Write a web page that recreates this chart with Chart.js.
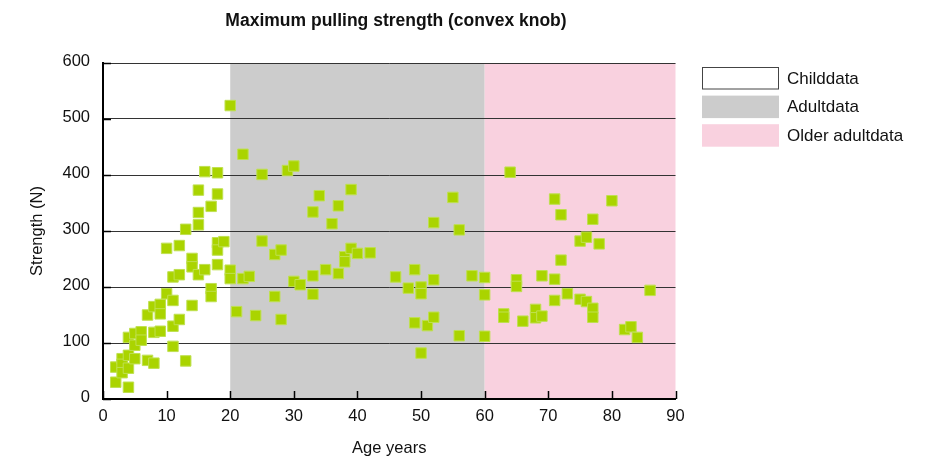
<!DOCTYPE html>
<html lang="en">
<head>
    <meta charset="UTF-8">
    <title>Maximum pulling strength (convex knob)</title>
    <script src="https://cdn.jsdelivr.net/npm/chart.js"></script>
    <style>
        html, body {
            margin: 0;
            padding: 0;
            background: #fff;
        }
        .wrap {
            position: relative;
            width: 940px;
            height: 458px;
        }
    </style>
</head>
<body>
    <div class="wrap">
        <canvas id="chart"></canvas>
    </div>

    <script>
        // age (years) and max pulling strength (N), one entry per subject
        const ages = [
            2, 2, 3, 3, 3, 4, 4, 4, 4, 5, 5, 5, 6, 6, 7, 7, 8, 8, 8, 9, 9, 9,
            10, 10, 11, 11, 11, 11, 12, 12, 12, 13, 13, 14, 14, 14,
            15, 15, 15, 15, 16, 16, 17, 17, 17, 18, 18, 18, 18, 18, 19,
            20, 20, 20, 21, 22, 22, 23, 24, 25, 25, 27, 27, 28, 28, 29, 30, 30, 31,
            33, 33, 33, 34, 35, 36, 37, 37, 38, 38, 39, 39, 40, 42,
            46, 48, 49, 49, 50, 50, 50, 51, 52, 52, 52, 55, 56, 56, 58, 60, 60, 60,
            63, 63, 64, 65, 65, 66, 68, 68, 69, 69, 71, 71, 71, 72, 72, 73,
            75, 75, 76, 76, 77, 77, 77, 78, 80, 82, 83, 84, 86
        ];
        const strengths = [
            57, 30, 72, 62, 47, 110, 78, 55, 21, 117, 96, 72, 120, 105, 150, 69, 165, 119, 64, 169, 152, 121,
            269, 188, 218, 176, 130, 94, 274, 222, 142, 303, 68, 251, 236, 167,
            373, 333, 311, 222, 406, 231, 344, 197, 183, 404, 366, 279, 266, 240, 281,
            524, 230, 215, 156, 437, 215, 219, 149, 401, 282, 258, 183, 266, 142, 408, 416, 210, 204,
            334, 220, 187, 363, 231, 313, 345, 224, 254, 245, 374, 269, 260, 261,
            218, 198, 231, 136, 200, 188, 82, 131, 315, 213, 146, 360, 302, 113, 220, 217, 186, 112,
            152, 146, 405, 213, 201, 139, 160, 145, 220, 148, 357, 214, 176, 329, 248, 188,
            282, 178, 289, 174, 321, 162, 146, 277, 354, 124, 129, 110, 194
        ];

        // age groups shaded behind the points
        const bandNames = ['Childdata', 'Adultdata', 'Older adultdata'];
        const bandFrom = [0, 20, 60];
        const bandTo = [20, 60, 90];
        const bandColors = ['#ffffff', '#cccccc', '#f9d1df'];

        const xMin = 0, xMax = 90, xStep = 10;
        const yMin = 0, yMax = 600, yStep = 100;

        const titleText = 'Maximum pulling strength (convex knob)';
        const xTitle = 'Age years';
        const yTitle = 'Strength (N)';

        const FONT = "'Liberation Sans', Arial, Helvetica, sans-serif";
        Chart.defaults.font.family = FONT;
        Chart.defaults.color = '#111';

        const points = ages.map((a, i) => ({ x: a, y: strengths[i] }));

        // coloured age bands under the grid
        const bandsPlugin = {
            id: 'bands',
            beforeDraw(chart) {
                const { ctx, chartArea, scales } = chart;
                ctx.save();
                bandFrom.forEach((from, i) => {
                    const x0 = scales.x.getPixelForValue(from);
                    const x1 = scales.x.getPixelForValue(bandTo[i]);
                    ctx.fillStyle = bandColors[i];
                    ctx.fillRect(x0, chartArea.top, x1 - x0, chartArea.bottom - chartArea.top);
                });
                ctx.restore();
            }
        };

        // short tick marks pointing into the plot
        const innerTicks = {
            id: 'innerTicks',
            afterDatasetsDraw(chart) {
                const { ctx, chartArea, scales } = chart;
                ctx.save();
                ctx.strokeStyle = '#000';
                ctx.lineWidth = 1.5;
                ctx.beginPath();
                scales.y.ticks.forEach(t => {
                    const y = Math.round(scales.y.getPixelForValue(t.value)) + 0.5;
                    ctx.moveTo(chartArea.left, y);
                    ctx.lineTo(chartArea.left + 8, y);
                });
                scales.x.ticks.forEach(t => {
                    const x = Math.round(scales.x.getPixelForValue(t.value)) + 0.5;
                    ctx.moveTo(x, chartArea.bottom);
                    ctx.lineTo(x, chartArea.bottom - 8);
                });
                ctx.stroke();
                ctx.restore();
            }
        };

        // title and band legend
        const labelsPlugin = {
            id: 'labels',
            afterDraw(chart) {
                const { ctx } = chart;
                ctx.save();
                ctx.fillStyle = '#111';
                ctx.font = 'bold 17.5px ' + FONT;
                ctx.textAlign = 'center';
                ctx.textBaseline = 'middle';
                ctx.fillText(titleText, 396, 21);

                ctx.font = '17px ' + FONT;
                ctx.textAlign = 'left';
                bandNames.forEach((name, i) => {
                    const top = 67 + i * 28.6;
                    ctx.fillStyle = bandColors[i];
                    ctx.fillRect(702, top, 77, 22.5);
                    if (i === 0) {
                        ctx.strokeStyle = '#444';
                        ctx.lineWidth = 1;
                        ctx.strokeRect(702.5, top + 0.5, 76, 21.5);
                    }
                    ctx.fillStyle = '#111';
                    ctx.fillText(name, 787, top + 12);
                });
                ctx.restore();
            }
        };

        new Chart(document.getElementById('chart'), {
            type: 'scatter',
            data: {
                datasets: [{
                    label: 'Strength',
                    data: points,
                    pointStyle: 'rect',
                    pointRadius: 7.4,
                    pointHoverRadius: 7.4,
                    backgroundColor: '#aad400',
                    borderColor: '#bfe050',
                    borderWidth: 1
                }]
            },
            options: {
                responsive: true,
                maintainAspectRatio: false,
                animation: false,
                devicePixelRatio: 1,
                layout: {
                    padding: { left: 0, right: 264.5, top: 63, bottom: 0 }
                },
                plugins: {
                    legend: { display: false },
                    title: { display: false },
                    tooltip: { enabled: false }
                },
                scales: {
                    x: {
                        type: 'linear',
                        min: xMin,
                        max: xMax,
                        afterFit: s => { s.height = 59; },
                        ticks: {
                            stepSize: xStep,
                            padding: 8,
                            color: '#111',
                            font: { size: 16.5 }
                        },
                        grid: { display: false, drawTicks: false },
                        border: { display: true, color: '#000', width: 2 },
                        title: {
                            display: true,
                            text: xTitle,
                            color: '#111',
                            font: { size: 16.5 },
                            padding: { top: 0, bottom: 0 }
                        }
                    },
                    y: {
                        type: 'linear',
                        min: yMin,
                        max: yMax,
                        afterFit: s => { s.width = 103; },
                        ticks: {
                            stepSize: yStep,
                            padding: 13,
                            labelOffset: -2,
                            color: '#111',
                            font: { size: 16.5 }
                        },
                        grid: { color: '#333', lineWidth: 1, drawTicks: false },
                        border: { display: true, color: '#000', width: 2 },
                        title: {
                            display: true,
                            text: yTitle,
                            color: '#111',
                            font: { size: 16.5 },
                            padding: { top: 28, bottom: 0 }
                        }
                    }
                }
            },
            plugins: [bandsPlugin, innerTicks, labelsPlugin]
        });
    </script>
</body>
</html>
